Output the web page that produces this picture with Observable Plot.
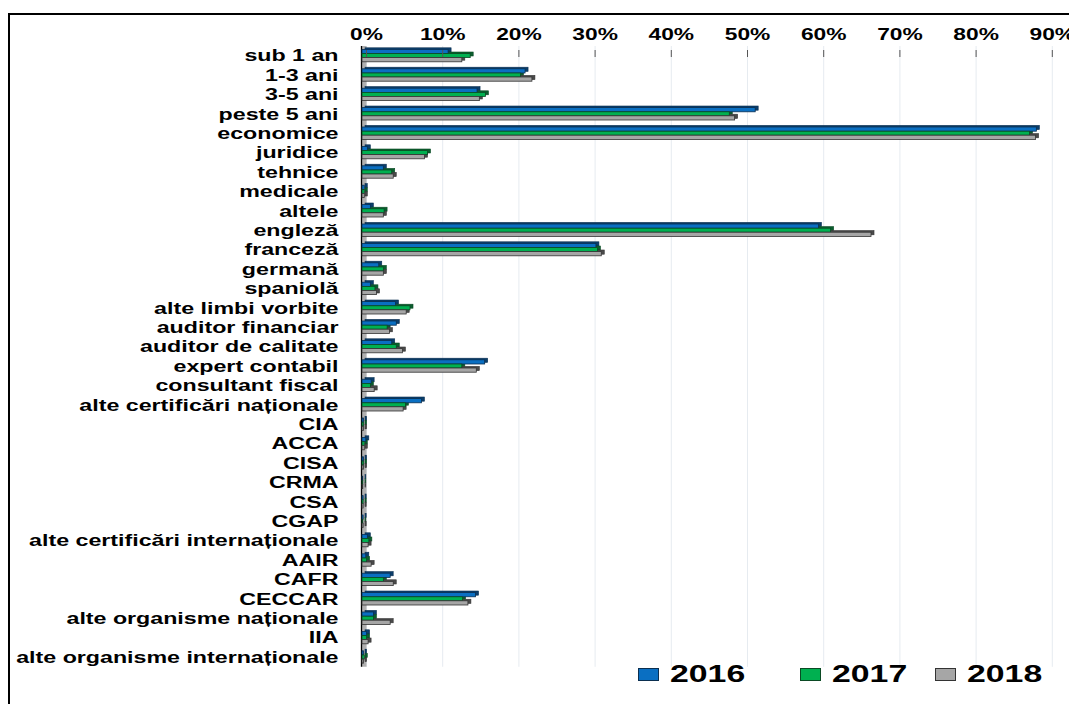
<!DOCTYPE html>
<html>
<head>
<meta charset="utf-8">
<script src="https://cdn.jsdelivr.net/npm/d3@7"></script>
<script src="https://cdn.jsdelivr.net/npm/@observablehq/plot@0.6"></script>
<style>
  html, body { margin:0; padding:0; background:#fff; width:1069px; height:704px; overflow:hidden; }
  #frame { position:absolute; left:8px; top:13px; width:1100px; height:740px; border:2px solid #000; box-sizing:border-box; }
  #chart { position:absolute; left:0; top:0; }
  .lg-sw { position:absolute; width:21px; height:13px; box-sizing:border-box; }
  .lg-tx { position:absolute; font-family:"Liberation Sans", Arial, sans-serif; font-weight:bold; font-size:23px; line-height:23px; color:#000; transform:scaleX(1.47); transform-origin:left center; white-space:nowrap; }
</style>
</head>
<body>
<div id="frame"></div>
<div id="chart"></div>
<div id="legend"></div>
<script>
const categories = [
  "sub 1 an", "1-3 ani", "3-5 ani", "peste 5 ani", "economice", "juridice", "tehnice",
  "medicale", "altele", "engleză", "franceză", "germană", "spaniolă", "alte limbi vorbite",
  "auditor financiar", "auditor de calitate", "expert contabil", "consultant fiscal",
  "alte certificări naționale", "CIA", "ACCA", "CISA", "CRMA", "CSA", "CGAP",
  "alte certificări internaționale", "AAIR", "CAFR", "CECCAR", "alte organisme naționale",
  "IIA", "alte organisme internaționale"
];
const v2016 = [11.3, 21.4, 15.1, 51.6, 88.5, 0.7, 2.8, 0.3, 1.1, 59.9, 30.7, 2.2, 1.1, 4.4, 4.5, 3.9, 16.1, 1.2, 7.8, 0.2, 0.5, 0.2, 0.1, 0.15, 0.15, 0.7, 0.5, 3.7, 14.9, 1.5, 0.6, 0.2];
const v2017 = [14.2, 20.8, 16.2, 48.2, 87.6, 8.6, 3.9, 0.3, 2.9, 61.5, 30.9, 2.8, 1.7, 6.3, 3.3, 4.5, 13.1, 1.1, 5.7, 0.2, 0.3, 0.2, 0.1, 0.15, 0.1, 0.9, 0.6, 2.8, 13.2, 1.5, 0.6, 0.3];
const v2018 = [13.1, 22.3, 15.4, 48.9, 88.4, 8.2, 4.1, 0.3, 2.8, 66.8, 31.4, 2.8, 1.9, 5.8, 3.6, 5.3, 15.0, 1.6, 5.4, 0.2, 0.3, 0.2, 0.1, 0.15, 0.15, 0.8, 1.2, 4.1, 13.9, 3.7, 0.8, 0.2];
const years = ["2016", "2017", "2018"];
const xTicks = [0, 10, 20, 30, 40, 50, 60, 70, 80, 90];

const colors = ["#0A6FC2", "#00B050", "#A6A6A6"];
const shades = ["#0B3E6B", "#0B5E2E", "#4A4A4A"];
const edges  = ["#0B2F50", "#0B4A24", "#333333"];
const series = [v2016, v2017, v2018];

const rows = years.map((yr, i) => categories.map((c, j) => ({cat: c, year: yr, value: series[i][j]})));

// vertical placement of the three bars inside a category band (band = 19.4px)
const BAND = 19.4;
const slots = [[3.4, 7.6], [7.6, 11.6], [11.6, 15.8]];
const inset = i => ({insetTop: slots[i][0], insetBottom: BAND - slots[i][1]});

const marks = [];
// back-plane gridlines
marks.push(Plot.ruleX(xTicks, {stroke: "#e6ebf0", strokeWidth: 1, dx: 4}));
// left wall
marks.push(Plot.ruleX([0], {stroke: "#b0b0b0", strokeWidth: 5, dx: 1.5}));
marks.push(Plot.ruleX([0], {stroke: "#000", strokeWidth: 1.3, dx: -1}));
// 3D shadow copies
rows.forEach((r, i) => {
  marks.push(Plot.barX(r, {x: "value", y: "cat", fill: shades[i], stroke: edges[i], strokeWidth: 0.6, dx: 3, dy: -1.6, ...inset(i)}));
});
// front faces
rows.forEach((r, i) => {
  marks.push(Plot.barX(r, {x: "value", y: "cat", fill: colors[i], stroke: edges[i], strokeWidth: 0.8, ...inset(i)}));
});
// top axis labels
marks.push(Plot.axisX({anchor: "top", ticks: xTicks, tickFormat: d => d + "%", tickSize: 0, tickPadding: 7, dx: 4, fontSize: 16, fontWeight: "bold", fill: "#000", label: null}));
// small tick marks just inside the top
marks.push(Plot.axisX({anchor: "top", ticks: xTicks, tickFormat: () => "", tickSize: 7, dx: 4, dy: 10, stroke: "#555", label: null}));
// category labels
marks.push(Plot.axisY({anchor: "left", tickSize: 0, tickPadding: 24, fontSize: 16, fontWeight: "bold", fill: "#000", label: null}));

const chart = Plot.plot({
  width: 1069,
  height: 704,
  marginLeft: 362,
  marginRight: 21.2,
  marginTop: 46,
  marginBottom: 704 - 46 - BAND * categories.length,
  style: {fontFamily: "'Liberation Sans', Arial, sans-serif", background: "transparent", overflow: "visible"},
  x: {domain: [0, 90]},
  y: {domain: categories, padding: 0, round: false},
  marks
});
document.getElementById("chart").appendChild(chart);

// horizontally stretched lettering, as in the reference
function stretch(sel, factor) {
  chart.querySelectorAll(sel).forEach(t => {
    const w = t.getComputedTextLength();
    if (w > 0) {
      t.setAttribute("textLength", (w * factor).toFixed(1));
      t.setAttribute("lengthAdjust", "spacingAndGlyphs");
    }
  });
}
stretch('g[aria-label="y-axis tick label"] text', 1.45);
stretch('g[aria-label="x-axis tick label"] text', 1.42);

// legend
const legend = document.getElementById("legend");
const swLeft = [638, 800, 935];
years.forEach((yr, i) => {
  const sw = document.createElement("div");
  sw.className = "lg-sw";
  sw.style.left = swLeft[i] + "px";
  sw.style.top = "668px";
  sw.style.background = colors[i];
  sw.style.border = "1px solid " + edges[i];
  legend.appendChild(sw);
  const tx = document.createElement("div");
  tx.className = "lg-tx";
  tx.style.left = (swLeft[i] + 32) + "px";
  tx.style.top = "663px";
  tx.textContent = yr;
  legend.appendChild(tx);
});
</script>
</body>
</html>
